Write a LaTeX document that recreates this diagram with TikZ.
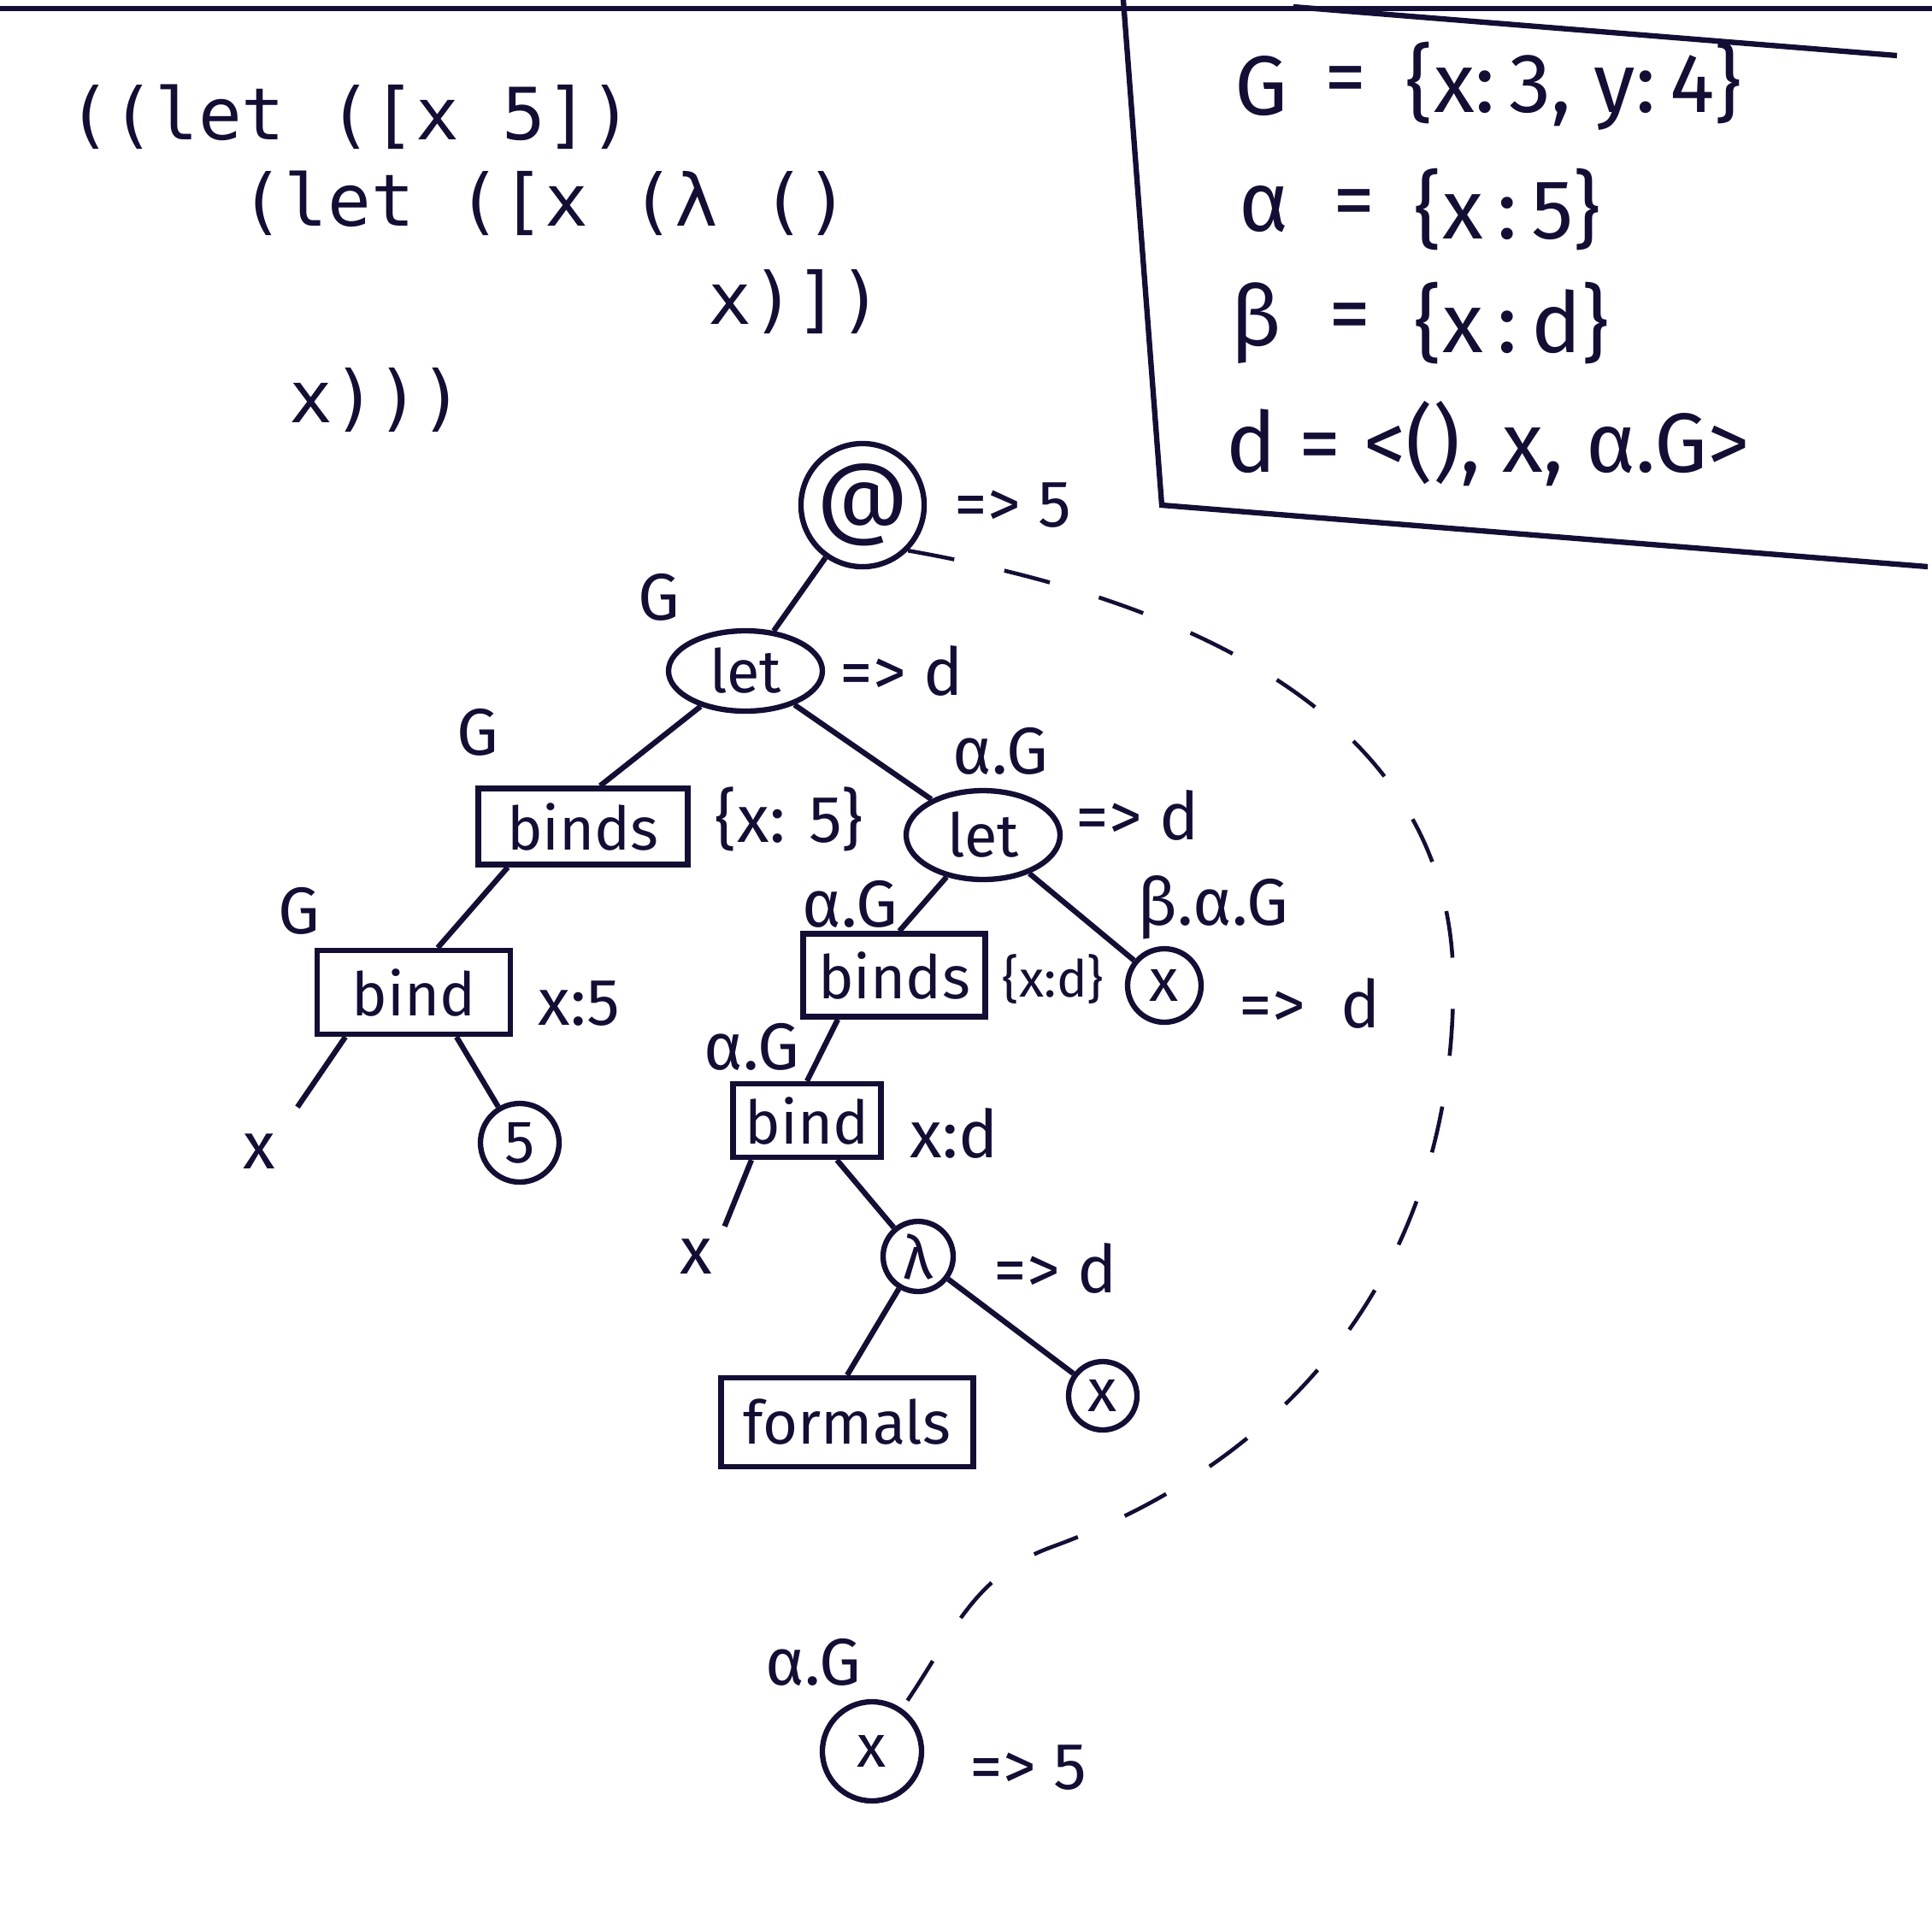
\documentclass[tikz,border=0pt]{standalone}
\usepackage{fontspec}
\setmainfont{Fira Sans}
\setmonofont{DejaVu Sans Mono}
\usetikzlibrary{shapes.geometric}
\definecolor{ink}{RGB}{18,14,52}
\tikzset{
  treebox/.style={rectangle, draw=ink, line width=1.8pt, inner sep=0pt, font=\fontsize{20}{24}\selectfont},
  treeoval/.style={ellipse, draw=ink, line width=1.8pt, inner sep=0pt, font=\fontsize{20}{24}\selectfont},
  treecirc/.style={circle, draw=ink, line width=1.8pt, inner sep=0pt, font=\fontsize{20}{24}\selectfont},
  vallabel/.style={anchor=west},
  codeline/.style={anchor=west, font=\ttfamily\fontsize{24}{28}\selectfont},
  envdef/.style={anchor=west, font=\fontsize{28}{32}\selectfont},
  scopelink/.style={draw=ink, line width=1.3pt, dash pattern=on 0.55cm off 0.6cm},
}

\begin{document}
\begin{tikzpicture}[ink, line width=1.8pt, every node/.style={text=ink, font=\fontsize{22}{26}\selectfont}]
  \useasboundingbox (0,0) rectangle (22.6,-22.36);

  % the program
  \node[codeline] (code1) at (0.65, -1.37) {((let ([x 5])};
  \node[codeline] (code2) at (2.67, -2.38) {(let ([x (λ ()};
  \node[codeline] (code3) at (8.14, -3.53) {x)])};
  \node[codeline] (code4) at (3.24, -4.68) {x)))};

  % environments
  \coordinate (frametl) at (13.14, 0);
  \coordinate (framebl) at (13.59, -5.91);
  \coordinate (framebr) at (22.55, -6.63);
  \coordinate (edgel) at (0, -0.1);
  \coordinate (edger) at (22.6, -0.1);
  \coordinate (slanta) at (15.13, -0.08);
  \coordinate (slantb) at (22.19, -0.65);
  \draw (edgel) -- (edger);
  \draw (slanta) -- (slantb);
  \draw (frametl) -- (framebl) -- (framebr);

  \node[envdef] (gname)  at (14.30, -1.01) {G};
  \node[envdef] (geq)    at (15.35, -1.01) {=};
  \node[envdef] (gset)   at (16.30, -1.01) {\{x:\,3,\ y:\,4\}};
  \node[envdef] (aname)  at (14.35, -2.45) {α};
  \node[envdef] (aeq)    at (15.45, -2.45) {=};
  \node[envdef] (aset)   at (16.40, -2.45) {\{x\,:\,5\}};
  \node[envdef] (bname)  at (14.25, -3.78) {β};
  \node[envdef] (beq)    at (15.40, -3.78) {=};
  \node[envdef] (bset)   at (16.40, -3.78) {\{x\,:\,d\}};
  \node[envdef] (dclo)   at (14.20, -5.19) {d = <(),\ x,\ α.G>};

  % the tree
  \node[treecirc, minimum size=1.16cm, font=\fontsize{30}{30}\selectfont] (app) at (10.09, -5.91) {@};
  \node[treeoval, minimum width=1.8cm, minimum height=0.94cm] (let1) at (8.72, -7.85) {let};
  \node[treebox, minimum width=2.45cm, minimum height=0.89cm] (binds1) at (6.82, -9.67) {binds};
  \node[treeoval, minimum width=1.8cm, minimum height=1.04cm] (let2) at (11.50, -9.77) {let};
  \node[treebox, minimum width=2.26cm, minimum height=0.98cm] (bind1) at (4.84, -11.61) {bind};
  \node[treebox, minimum width=2.13cm, minimum height=0.97cm] (binds2) at (10.46, -11.41) {binds};
  \node[treecirc, minimum size=0.86cm] (xlet) at (13.62, -11.53) {x};
  \node (xleaf1) at (3.03, -13.47) {x};
  \node[treecirc, minimum size=0.92cm] (five) at (6.08, -13.37) {5};
  \node[treebox, minimum width=1.73cm, minimum height=0.86cm] (bind2) at (9.44, -13.11) {bind};
  \node (xleaf2) at (8.14, -14.70) {x};
  \node[treecirc, minimum size=0.82cm] (lam) at (10.74, -14.70) {λ};
  \node[treebox, minimum width=2.95cm, minimum height=1.04cm] (formals) at (9.91, -16.64) {formals};
  \node[treecirc, minimum size=0.80cm] (xbody) at (12.90, -16.33) {x};
  \node[treecirc, minimum size=1.16cm] (xbot) at (10.20, -20.49) {x};

  \draw (app) -- (let1);
  \draw (let1) -- ([xshift=0.2cm]binds1.north);
  \draw (let1) -- (let2);
  \draw ([xshift=-0.88cm]binds1.south) -- ([xshift=0.28cm]bind1.north);
  \draw ([xshift=-0.8cm]bind1.south) -- (xleaf1.north east) [shorten >=0.2cm];
  \draw ([xshift=0.5cm]bind1.south) -- (five);
  \draw (let2) -- ([xshift=0.06cm]binds2.north);
  \draw (let2) -- (xlet);
  \draw ([xshift=-0.66cm]binds2.south) -- (bind2.north);
  \draw ([xshift=-0.65cm]bind2.south) -- (xleaf2.north east);
  \draw ([xshift=0.35cm]bind2.south) -- (lam);
  \draw (lam) -- (formals.north);
  \draw (lam) -- (xbody);

  % environment each node is evaluated in
  \node (envlet1)   at (7.71, -6.99) {G};
  \node (envbinds1) at (5.59, -8.57) {G};
  \node (envlet2)   at (11.70, -8.79) {α.G};
  \node (envbind1)  at (3.50, -10.66) {G};
  \node (envbinds2) at (9.94, -10.58) {α.G};
  \node (envxlet)   at (14.19, -10.62) {β.α.G};
  \node (envbind2)  at (8.79, -12.25) {α.G};
  \node (envxbot)   at (9.51, -19.45) {α.G};

  % values
  \node[vallabel] (appval)    at (11.02, -5.91) {=> 5};
  \node[vallabel] (let1val)   at (9.68, -7.85) {=> d};
  \node[vallabel] (binds1val) at (8.22, -9.58) {\{x: 5\}};
  \node[vallabel] (let2val)   at (12.44, -9.54) {=> d};
  \node[vallabel] (bind1val)  at (6.15, -11.74) {x:5};
  \node[vallabel, font=\fontsize{17}{20}\selectfont] (binds2val) at (11.58, -11.46) {\{x:d\}};
  \node[vallabel] (xletval)   at (14.35, -11.74) {=>\ \ d};
  \node[vallabel] (bind2val)  at (10.50, -13.26) {x:d};
  \node[vallabel] (lamval)    at (11.48, -14.84) {=> d};
  \node[vallabel] (xbotval)   at (11.20, -20.68) {=> 5};

  % x in the body is looked up in the outer let
  \coordinate (arcright) at (17.0, -11.5);
  \coordinate (arclow) at (12.3, -18.1);
  \draw[scopelink] (app.south east) to[out=-10,in=90] (arcright) to[out=-90,in=20] (arclow) to[out=-160,in=55] (xbot);
\end{tikzpicture}
\end{document}
